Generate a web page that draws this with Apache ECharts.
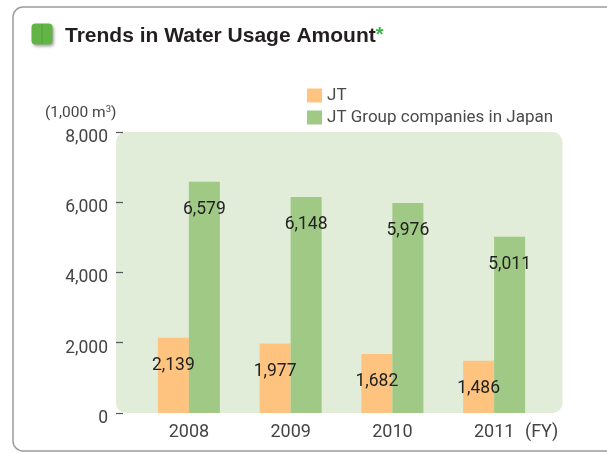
<!DOCTYPE html>
<html>
<head>
<meta charset="utf-8">
<script src="https://cdn.jsdelivr.net/npm/echarts@6/dist/echarts.min.js"></script>
<style>
html,body{margin:0;padding:0;background:#fff;}
#chart{width:607px;height:453px;}
</style>
</head>
<body>
<div id="chart"></div>
<script>
const categories = ['2008', '2009', '2010', '2011'];
const jtValues = [2139, 1977, 1682, 1486];
const groupValues = [6579, 6148, 5976, 5011];
const seriesNames = ['JT', 'JT Group companies in Japan'];
const yTicks = [0, 2000, 4000, 6000, 8000];

const FONT = 'Roboto, "Liberation Sans", sans-serif';
const chart = echarts.init(document.getElementById('chart'), null, {renderer: 'canvas'});

const labelOpt = {
  show: true,
  position: 'insideTop',
  distance: 19,
  fontFamily: FONT,
  fontSize: 17.5,
  color: '#222',
  formatter: p => p.value.toLocaleString('en-US')
};

const option = {
  animation: false,
  backgroundColor: '#fff',
  title: [
    {
      text: 'Trends in Water Usage Amount{ast|*}',
      left: 60, top: 20.5,
      textStyle: {
        fontFamily: '"Liberation Sans", Arial, sans-serif',
        fontWeight: 'bold', fontSize: 21, color: '#231f20',
        rich: {ast: {color: '#3cb54a', fontWeight: 'bold', fontSize: 20, fontFamily: '"Liberation Sans", Arial, sans-serif', verticalAlign: 'top'}}
      }
    },
    {
      text: '(1,000 m{sup|3})',
      left: 40, top: 100,
      textStyle: {
        fontFamily: FONT, fontWeight: 'normal', fontSize: 15.5, color: '#444',
        rich: {sup: {fontSize: 9.5, color: '#444', fontFamily: FONT, padding: [0, 0, 6, 0]}}
      }
    }
  ],
  legend: {
    orient: 'vertical',
    left: 302, top: 82,
    itemWidth: 15, itemHeight: 14, itemGap: 5,
    icon: 'rect',
    textStyle: {fontFamily: FONT, fontSize: 17, color: '#4a4a4a', padding: [0, 0, 0, 0]},
    data: seriesNames
  },
  grid: {left: 138, right: 62, top: 131.8, bottom: 40, containLabel: false},
  graphic: [
    {
      type: 'rect', silent: true, z: -10,
      shape: {x: 13, y: 7, width: 640, height: 444, r: 10},
      style: {fill: 'none', stroke: '#9c9c9c', lineWidth: 1.5}
    },
    {
      type: 'rect', silent: true, z: -5,
      shape: {x: 116, y: 132, width: 446.5, height: 281, r: [10, 10, 10, 10]},
      style: {fill: '#e1ecd9'}
    },
    {
      type: 'rect', silent: true, z: 5,
      shape: {x: 31.5, y: 23.5, width: 21, height: 21, r: 4},
      style: {fill: '#63b447', shadowBlur: 3, shadowOffsetX: 1.5, shadowOffsetY: 2, shadowColor: 'rgba(0,0,0,0.35)'}
    },
    {
      type: 'line', silent: true, z: 6,
      shape: {x1: 42, y1: 24, x2: 42, y2: 44},
      style: {stroke: 'rgba(40,120,30,0.35)', lineWidth: 1}
    }
  ],
  xAxis: {
    type: 'category',
    data: categories,
    axisLine: {show: false},
    axisTick: {show: false},
    axisLabel: {fontFamily: FONT, fontSize: 18, color: '#444', margin: 10},
    name: '(FY)',
    nameLocation: 'end',
    nameGap: -20,
    nameTextStyle: {fontFamily: FONT, fontSize: 18, color: '#444', verticalAlign: 'top', padding: [10, 0, 0, 0]}
  },
  yAxis: {
    type: 'value',
    min: 0, max: 8000, interval: 2000,
    offset: 15,
    axisLine: {show: false},
    axisTick: {show: true, length: 7, lineStyle: {color: '#555', width: 1.2}},
    splitLine: {show: false},
    axisLabel: {
      fontFamily: FONT, fontSize: 17.5, color: '#444', margin: 15,
      verticalAlign: 'top', lineHeight: 11,
      formatter: v => yTicks.includes(v) ? v.toLocaleString('en-US') : ''
    }
  },
  series: [
    {
      name: seriesNames[0], type: 'bar', data: jtValues,
      barWidth: 31, barGap: '0%',
      itemStyle: {color: '#fec47f'},
      label: labelOpt
    },
    {
      name: seriesNames[1], type: 'bar', data: groupValues,
      barWidth: 31, barGap: '0%',
      itemStyle: {color: '#9fc984'},
      label: labelOpt
    }
  ]
};
chart.setOption(option);
</script>
</body>
</html>
